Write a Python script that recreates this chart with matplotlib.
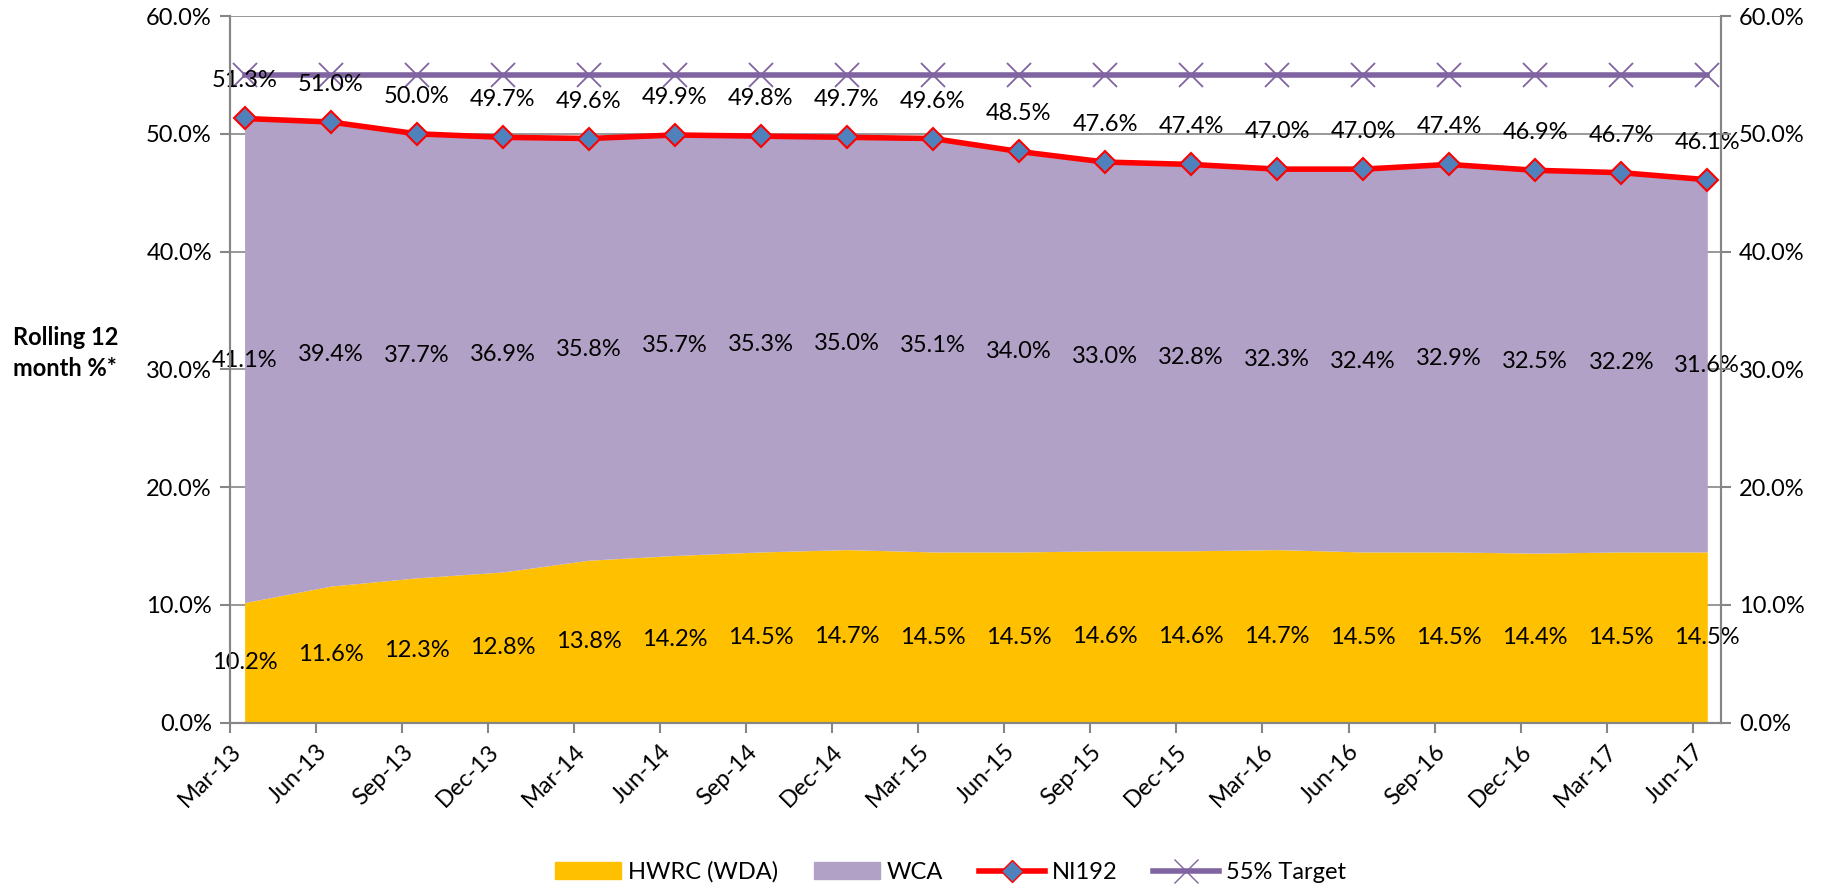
import matplotlib.pyplot as plt
import numpy as np
from matplotlib.lines import Line2D
from matplotlib.patches import Patch
from matplotlib.ticker import FuncFormatter

plt.rcParams['font.family'] = ['Lato', 'DejaVu Sans']

quarters = ['Mar-13', 'Jun-13', 'Sep-13', 'Dec-13', 'Mar-14', 'Jun-14', 'Sep-14', 'Dec-14', 'Mar-15',
            'Jun-15', 'Sep-15', 'Dec-15', 'Mar-16', 'Jun-16', 'Sep-16', 'Dec-16', 'Mar-17', 'Jun-17']
hwrc = [10.2, 11.6, 12.3, 12.8, 13.8, 14.2, 14.5, 14.7, 14.5, 14.5, 14.6, 14.6, 14.7, 14.5, 14.5, 14.4, 14.5, 14.5]
wca = [41.1, 39.4, 37.7, 36.9, 35.8, 35.7, 35.3, 35.0, 35.1, 34.0, 33.0, 32.8, 32.3, 32.4, 32.9, 32.5, 32.2, 31.6]
ni192 = [51.3, 51.0, 50.0, 49.7, 49.6, 49.9, 49.8, 49.7, 49.6, 48.5, 47.6, 47.4, 47.0, 47.0, 47.4, 46.9, 46.7, 46.1]
target = [55.0] * len(quarters)

GOLD = '#FFC000'
LILAC = '#B2A1C7'
RED = '#FF0000'
BLUE = '#4F81BD'
PURPLE = '#8064A2'
GREY = '#868686'
FS = 17

ticks = np.arange(len(quarters))
x = ticks + 0.17  # points sit a little right of the date ticks
hwrc_a = np.array(hwrc)
top = hwrc_a + np.array(wca)

fig = plt.figure(figsize=(18.28, 8.89), dpi=100)
ax = fig.add_axes([0.1258, 0.187, 0.8157, 0.795])

ax.fill_between(x, 0, hwrc_a, color=GOLD, lw=0, zorder=2)
ax.fill_between(x, hwrc_a, top, color=LILAC, lw=0, zorder=2)
ax.plot(x, ni192, color=RED, lw=4, marker='D', ms=11, mfc=BLUE, mec=RED, mew=1.5, zorder=4)
ax.plot(x, target, color=PURPLE, lw=4, marker='x', ms=17, mec=PURPLE, mew=1.3, zorder=3)

for xi, h, w, n in zip(x, hwrc, wca, ni192):
    ax.text(xi, h / 2, f'{h:.1f}%', ha='center', va='center', fontsize=FS, zorder=5)
    ax.text(xi, h + w / 2, f'{w:.1f}%', ha='center', va='center', fontsize=FS, zorder=5)
    ax.annotate(f'{n:.1f}%', (xi, n), xytext=(0, 27), textcoords='offset points',
                ha='center', va='center', fontsize=FS, zorder=5)

ax.set_xlim(0, 17.33)
ax.set_ylim(0, 60)
yt = np.arange(0, 61, 10)
pct = FuncFormatter(lambda v, _: f'{v:.1f}%')
ax.set_yticks(yt)
ax.yaxis.set_major_formatter(pct)
ax.grid(axis='y', color=GREY, lw=1.2, zorder=1)
ax.set_axisbelow(True)
ax.set_xticks(ticks)
ax.set_xticklabels(quarters, rotation=45, ha='right', rotation_mode='anchor')

ax2 = ax.twinx()
ax2.set_ylim(0, 60)
ax2.set_yticks(yt)
ax2.yaxis.set_major_formatter(pct)

for a in (ax, ax2):
    for s in a.spines.values():
        s.set_color(GREY)
        s.set_linewidth(1.5)
    a.spines['top'].set_visible(False)
    a.tick_params(colors=GREY, labelcolor='black', labelsize=FS, length=7, width=1.5, pad=6)

fig.text(0.007, 0.603, 'Rolling 12\nmonth %*', ha='left', va='center', fontsize=FS,
         fontweight='bold', linespacing=1.45)

handles = [
    Patch(color=GOLD, label='HWRC (WDA)'),
    Patch(color=LILAC, label='WCA'),
    Line2D([], [], color=RED, lw=4, marker='D', ms=11, mfc=BLUE, mec=RED, label='NI192'),
    Line2D([], [], color=PURPLE, lw=4, marker='x', ms=17, mec=PURPLE, label='55% Target'),
]
fig.legend(handles=handles, loc='center', bbox_to_anchor=(0.52, 0.019), ncol=4, frameon=False,
           fontsize=FS, handlelength=2.8, columnspacing=1.5, handletextpad=0.3)

fig.savefig('out.png', dpi=100)
